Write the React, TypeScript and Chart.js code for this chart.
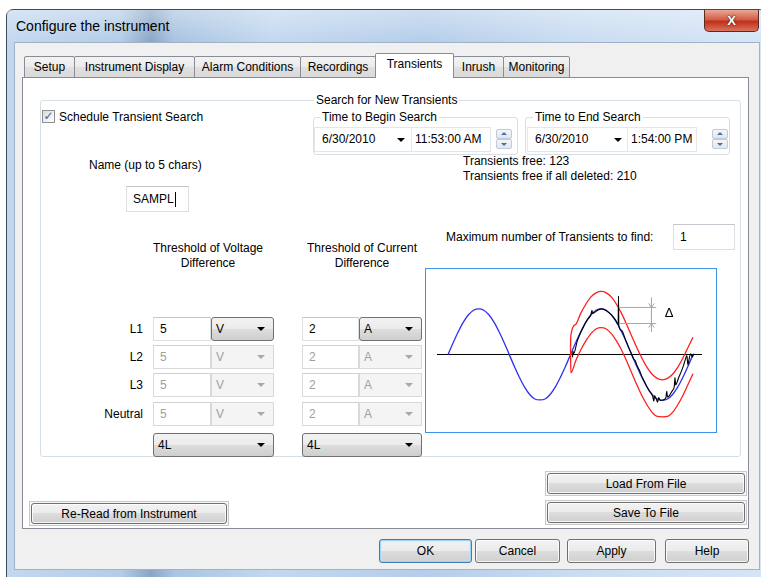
import React, { useEffect, useRef } from "react";
import { Chart, registerables } from "chart.js";
Chart.register(...registerables);

// ---------- chart data (x in degrees, y in per-unit amplitude) ----------
const blueDeg = [0, 15, 30, 45, 60, 75, 90, 105, 120, 135, 150, 165, 180, 195, 210, 225, 240, 255, 270, 285, 300, 315, 330, 345, 360, 375, 390, 405, 420, 435, 450, 465, 480, 495, 510, 525, 540, 555, 570, 585, 600, 615, 630, 645, 660, 675, 690, 705, 720];
const blueVal = [0, 0.26, 0.5, 0.71, 0.87, 0.97, 1, 0.97, 0.87, 0.71, 0.5, 0.26, 0, -0.26, -0.5, -0.71, -0.87, -0.97, -0.99, -0.97, -0.87, -0.71, -0.5, -0.26, 0, 0.26, 0.5, 0.71, 0.87, 0.97, 1, 0.97, 0.87, 0.71, 0.5, 0.26, 0, -0.26, -0.5, -0.71, -0.87, -0.97, -1, -0.97, -0.87, -0.71, -0.5, -0.26, 0];

const upperDeg = [360, 361, 375, 390, 405, 420, 435, 450, 465, 480, 495, 510, 525, 540, 555, 570, 585, 600, 615, 630, 645, 660, 675, 690, 705, 720];
const upperVal = [0.15, 0.42, 0.66, 0.9, 1.1, 1.26, 1.35, 1.38, 1.35, 1.26, 1.1, 0.9, 0.66, 0.4, 0.15, -0.08, -0.28, -0.43, -0.52, -0.55, -0.52, -0.43, -0.28, -0.08, 0.15, 0.38];

const lowerDeg = [360, 361, 375, 390, 405, 420, 435, 450, 465, 480, 495, 510, 525, 540, 555, 570, 585, 600, 615, 630, 645, 660, 675, 690, 705, 720];
const lowerVal = [0.15, -0.4, -0.14, 0.1, 0.3, 0.46, 0.56, 0.59, 0.56, 0.46, 0.3, 0.1, -0.14, -0.4, -0.66, -0.9, -1.1, -1.26, -1.35, -1.36, -1.35, -1.26, -1.1, -0.9, -0.66, -0.42];

const blackDeg = [366, 367, 369, 380, 395, 410, 420, 423, 425, 440, 452, 465, 480, 492, 500, 501, 502, 510, 520, 530, 540, 546, 550, 556, 562, 570, 578, 586, 592, 598, 602, 605, 607, 612, 616, 619, 624, 632, 640, 643, 645, 652, 660, 665, 667, 669, 678, 686, 692, 697, 702, 705, 708, 713, 718, 722];
const blackVal = [-0.06, 0.08, 0.02, 0.3, 0.56, 0.77, 0.87, 0.97, 0.9, 0.97, 1.0, 0.96, 0.87, 0.76, 0.66, 1.28, 0.63, 0.53, 0.36, 0.17, 0.0, -0.1, -0.13, -0.25, -0.33, -0.48, -0.6, -0.72, -0.8, -0.86, -0.92, -1.02, -0.9, -0.97, -1.04, -0.94, -1.0, -0.99, -0.95, -0.8, -0.93, -0.88, -0.78, -0.7, -0.5, -0.66, -0.5, -0.36, -0.24, -0.12, -0.02, -0.22, -0.12, 0.02, -0.05, 0.02];

const deltaTopDeg = [502, 612];
const deltaTopVal = [1.03, 1.03];
const deltaBottomDeg = [502, 612];
const deltaBottomVal = [0.68, 0.68];
const deltaVertDeg = [598, 598];
const deltaVertVal = [1.24, 0.5];
const arrowTopDeg = [590, 598, 606];
const arrowTopVal = [1.12, 1.03, 1.12];
const arrowBottomDeg = [590, 598, 606];
const arrowBottomVal = [0.59, 0.68, 0.59];
const deltaLabel = "Δ";
const deltaLabelDeg = [650];
const deltaLabelVal = [0.9];

const xRange = [-32.5, 746.5];
const yRange = [-1.69, 1.87];

const pts = (xs: number[], ys: number[]) => xs.map((x, i) => ({ x, y: ys[i] }));

// ---------- UI helpers ----------
const FONT = '"Liberation Sans", Arial, sans-serif';

const abs = (x: number, y: number, w: number, h: number): React.CSSProperties => ({
  position: "absolute",
  left: x,
  top: y,
  width: w,
  height: h,
  boxSizing: "border-box",
});

function Label({ x, cy, text, align = "l", color = "#000", size = 12 }: any) {
  const lh = 16;
  const style: React.CSSProperties = {
    position: "absolute",
    top: cy - lh / 2,
    lineHeight: lh + "px",
    height: lh,
    fontSize: size,
    fontFamily: FONT,
    color,
    whiteSpace: "nowrap",
  };
  if (align === "l") style.left = x;
  if (align === "c") {
    style.left = x - 150;
    style.width = 300;
    style.textAlign = "center";
  }
  if (align === "r") {
    style.left = x - 300;
    style.width = 300;
    style.textAlign = "right";
  }
  return <div style={style}>{text}</div>;
}

function Arrow({ x, cy, color = "#000" }: any) {
  return (
    <div
      style={{
        position: "absolute",
        left: x - 4,
        top: cy - 2,
        width: 0,
        height: 0,
        borderLeft: "4px solid transparent",
        borderRight: "4px solid transparent",
        borderTop: `4px solid ${color}`,
      }}
    />
  );
}

function Btn({ x, y, w, h, label, isDefault, framed }: any) {
  return (
    <>
      {framed && (
        <div style={{ ...abs(x - 2, y - 2, w + 4, h + 4), border: "1px solid #c9c9c9", background: "#f7f7f7" }} />
      )}
      <div
        style={{
          ...abs(x, y, w, h),
          border: `1px solid ${isDefault ? "#3c7fb1" : "#707070"}`,
          borderRadius: 3,
          background: "linear-gradient(#f2f2f2, #ebebeb 50%, #dddddd 50%, #cfcfcf)",
          boxShadow: isDefault ? "inset 0 0 0 1px #9fd3f2, inset 0 0 2px 1px #c8e8fa" : "inset 0 0 0 1px rgba(255,255,255,0.8)",
          display: "flex",
          alignItems: "center",
          justifyContent: "center",
          fontFamily: FONT,
          fontSize: 12,
          color: "#000",
        }}
      >
        {label}
      </div>
    </>
  );
}

function TextBox({ x, y, w, h, text, disabled, cursor }: any) {
  return (
    <div
      style={{
        ...abs(x, y, w, h),
        border: `1px solid ${disabled ? "#d9d9d9" : "#dcdfe4"}`,
        borderTopColor: disabled ? "#d0d0d0" : "#c3c6cc",
        background: "#fff",
        fontFamily: FONT,
        fontSize: 12,
        color: disabled ? "#a0a0a0" : "#000",
        display: "flex",
        alignItems: "center",
        paddingLeft: 6,
      }}
    >
      {text}
      {cursor && <span style={{ display: "inline-block", width: 1, height: 15, background: "#000", marginLeft: 1 }} />}
    </div>
  );
}

function Combo({ x, y, w, h, text, disabled }: any) {
  return (
    <div
      style={{
        ...abs(x, y, w, h),
        border: `1px solid ${disabled ? "#d9d9d9" : "#707070"}`,
        borderRadius: disabled ? 0 : 3,
        background: disabled ? "#f4f4f4" : "linear-gradient(#f2f2f2, #ebebeb 50%, #dddddd 50%, #cfcfcf)",
        fontFamily: FONT,
        fontSize: 12,
        color: disabled ? "#a0a0a0" : "#000",
        display: "flex",
        alignItems: "center",
        paddingLeft: 4,
      }}
    >
      {text}
      <div
        style={{
          position: "absolute",
          right: 8,
          top: h / 2 - 3,
          width: 0,
          height: 0,
          borderLeft: "4px solid transparent",
          borderRight: "4px solid transparent",
          borderTop: `4px solid ${disabled ? "#a8a8a8" : "#000"}`,
        }}
      />
    </div>
  );
}

function GroupBox({ x, y, w, h, label, labelX }: any) {
  return (
    <>
      <div style={{ ...abs(x, y, w, h), border: "1px solid #d5dfe5", borderRadius: 3 }} />
      <div
        style={{
          position: "absolute",
          left: labelX - 2,
          top: y - 8,
          height: 16,
          lineHeight: "16px",
          padding: "0 2px",
          background: "#fff",
          fontFamily: FONT,
          fontSize: 12,
          whiteSpace: "nowrap",
        }}
      >
        {label}
      </div>
    </>
  );
}

function Spinner({ x, y }: any) {
  const part = (top: number, up: boolean) => (
    <div
      style={{
        ...abs(x, top, 16, 10),
        border: "1px solid #c2cad6",
        borderRadius: 2,
        background: "linear-gradient(#f4f7fb, #dfe6ef)",
      }}
    >
      <div
        style={{
          position: "absolute",
          left: 4,
          top: up ? 2 : 3,
          width: 0,
          height: 0,
          borderLeft: "3px solid transparent",
          borderRight: "3px solid transparent",
          ...(up ? { borderBottom: "3px solid #4d6fa8" } : { borderTop: "3px solid #4d6fa8" }),
        }}
      />
    </div>
  );
  return (
    <>
      {part(y, true)}
      {part(y + 10, false)}
    </>
  );
}

function DateTime({ x, y, dateW, timeW, date, time, arrowX, spinX }: any) {
  return (
    <>
      <div style={{ ...abs(x, y, dateW + timeW, 25), border: "1px solid #e3e6ea", background: "#fff" }} />
      <div style={{ ...abs(x + dateW, y + 1, 1, 23), background: "#e3e6ea" }} />
      <Label x={x + 8} cy={y + 12} text={date} />
      <Arrow x={arrowX} cy={y + 13} />
      <Label x={x + dateW + 4} cy={y + 12} text={time} />
      <Spinner x={spinX} y={y + 2} />
    </>
  );
}

function Tab({ x, w, label, selected }: any) {
  return (
    <div
      style={{
        ...abs(x, selected ? 53 : 56, w, selected ? 25 : 22),
        border: "1px solid #898c95",
        borderBottom: selected ? "none" : "1px solid #898c95",
        borderRadius: "2px 2px 0 0",
        background: selected ? "#fff" : "linear-gradient(#f3f3f3, #ebebeb 50%, #e0e0e0 50%, #dadada)",
        fontFamily: FONT,
        fontSize: 12,
        display: "flex",
        alignItems: "center",
        justifyContent: "center",
        paddingBottom: selected ? 4 : 0,
        zIndex: selected ? 2 : 1,
      }}
    >
      {label}
    </div>
  );
}

// ---------- chart ----------
function WaveChart() {
  const ref = useRef<HTMLCanvasElement>(null);
  useEffect(() => {
    if (!ref.current) return;
    const deltaPlugin = {
      id: "deltaLabel",
      afterDatasetsDraw(chart: any) {
        const { ctx, scales } = chart;
        ctx.save();
        ctx.fillStyle = "#000";
        ctx.font = '13px "Liberation Sans", Arial, sans-serif';
        ctx.textAlign = "center";
        ctx.textBaseline = "middle";
        deltaLabelDeg.forEach((d, i) => {
          ctx.fillText(deltaLabel, scales.x.getPixelForValue(d), scales.y.getPixelForValue(deltaLabelVal[i]));
        });
        ctx.restore();
      },
    };
    const line = (data: any, color: string, width: number, order: number) => ({
      data,
      borderColor: color,
      borderWidth: width,
      pointRadius: 0,
      fill: false,
      order,
      cubicInterpolationMode: "monotone" as const,
    });
    const straight = (data: any, color: string, width: number) => ({
      data,
      borderColor: color,
      borderWidth: width,
      pointRadius: 0,
      fill: false,
      order: 0,
      tension: 0,
    });
    const chart = new Chart(ref.current, {
      type: "line",
      data: {
        datasets: [
          line(pts(blueDeg, blueVal), "#2f2ff0", 1.3, 4),
          line(pts(upperDeg, upperVal), "#ff1f1f", 1.3, 3),
          line(pts(lowerDeg, lowerVal), "#ff1f1f", 1.3, 3),
          line(pts(blackDeg, blackVal), "#000", 1.1, 1),
          straight(pts(deltaTopDeg, deltaTopVal), "#a8a8a8", 1),
          straight(pts(deltaBottomDeg, deltaBottomVal), "#a8a8a8", 1),
          straight(pts(deltaVertDeg, deltaVertVal), "#a8a8a8", 1),
          straight(pts(arrowTopDeg, arrowTopVal), "#a8a8a8", 1),
          straight(pts(arrowBottomDeg, arrowBottomVal), "#a8a8a8", 1),
        ] as any,
      },
      options: {
        animation: false,
        responsive: false,
        maintainAspectRatio: false,
        layout: { padding: { left: 11, right: 14, top: 0, bottom: 0 } },
        plugins: { legend: { display: false }, tooltip: { enabled: false } },
        elements: { point: { radius: 0 } },
        scales: {
          x: { type: "linear", display: false, min: xRange[0], max: xRange[1] },
          y: {
            type: "linear",
            display: true,
            min: yRange[0],
            max: yRange[1],
            afterBuildTicks: (s: any) => {
              s.ticks = [{ value: 0 }];
            },
            ticks: { display: false },
            grid: { drawTicks: false, color: "#000", lineWidth: 1 },
            border: { display: false },
          },
        },
      } as any,
      plugins: [deltaPlugin],
    });
    return () => chart.destroy();
  }, []);
  return (
    <div style={{ ...abs(425, 268, 292, 165), border: "1px solid #3b93eb", background: "#fff" }}>
      <canvas ref={ref} width={290} height={163} style={{ display: "block", width: 290, height: 163 }} />
    </div>
  );
}

export default function App() {
  const rows = [
    { label: "L1", y: 317, dis: false },
    { label: "L2", y: 345, dis: true },
    { label: "L3", y: 373, dis: true },
    { label: "Neutral", y: 402, dis: true },
  ];
  return (
    <div style={{ position: "fixed", left: 0, top: 0, width: 761, height: 577, background: "#fff", overflow: "hidden", fontFamily: FONT }}>
      {/* window frame */}
      <div
        style={{
          ...abs(6, 9, 760, 570),
          border: "1px solid #3d4b5c",
          borderRadius: "7px 7px 0 0",
          background:
            "linear-gradient(90deg, #c3d8ee 0%, #b3cce8 15%, #8aa5c4 19%, #a9c3e1 22%, #c2d8ef 35%, #b5cdea 55%, #c9dcf1 75%, #d5e5f6 100%)",
        }}
      />
      <div style={{ ...abs(7, 10, 758, 32), background: "linear-gradient(rgba(255,255,255,0.35), rgba(255,255,255,0))" }} />
      <Label x={16} cy={26} text="Configure the instrument" size={14} />
      {/* close button */}
      <div
        style={{
          ...abs(704, 10, 55, 22),
          border: "1px solid #5e2a20",
          borderTop: "none",
          borderRadius: "0 0 5px 5px",
          background: "linear-gradient(#e9a898, #d35e46 45%, #c2301a 55%, #d8745a)",
          color: "#fff",
          fontWeight: "bold",
          fontSize: 13,
          display: "flex",
          alignItems: "center",
          justifyContent: "center",
          textShadow: "0 0 2px #4a1a10, 0 0 1px #4a1a10",
        }}
      >
        X
      </div>
      {/* client area */}
      <div style={{ ...abs(14, 42, 746, 528), background: "#f0f0f0", border: "1px solid #9fb2c8" }} />

      {/* tab panel */}
      <div style={{ ...abs(22, 77, 727, 452), border: "1px solid #898c95", background: "#fff" }} />
      <Tab x={24} w={51} label="Setup" />
      <Tab x={74} w={121} label="Instrument Display" />
      <Tab x={194} w={107} label="Alarm Conditions" />
      <Tab x={300} w={76} label="Recordings" />
      <Tab x={375} w={79} label="Transients" selected />
      <Tab x={453} w={51} label="Inrush" />
      <Tab x={503} w={67} label="Monitoring" />

      {/* outer group */}
      <GroupBox x={40} y={100} w={701} h={357} label="Search for New Transients" labelX={316} />
      {/* checkbox */}
      <div
        style={{
          ...abs(42, 110, 13, 13),
          border: "1px solid #8f8f8f",
          background: "linear-gradient(135deg, #dcdcdc, #fdfdfd)",
          color: "#3d5fa6",
          fontSize: 12,
          fontWeight: "bold",
          lineHeight: "11px",
          textAlign: "center",
          fontFamily: '"DejaVu Sans", sans-serif',
        }}
      >
        ✓
      </div>
      <Label x={59} cy={117} text="Schedule Transient Search" />

      <GroupBox x={313} y={117} w={205} h={38} label="Time to Begin Search" labelX={322} />
      <DateTime x={314} y={127} dateW={97} timeW={80} date="6/30/2010" time="11:53:00 AM" arrowX={401} spinX={496} />
      <GroupBox x={525} y={117} w={205} h={38} label="Time to End Search" labelX={535} />
      <DateTime x={527} y={127} dateW={100} timeW={70} date="6/30/2010" time="1:54:00 PM" arrowX={618} spinX={712} />

      <Label x={463} cy={161} text="Transients free: 123" />
      <Label x={463} cy={176} text="Transients free if all deleted: 210" />

      <Label x={89} cy={165} text="Name (up to 5 chars)" />
      <TextBox x={126} y={186} w={63} h={26} text="SAMPL" cursor />

      <Label x={208} cy={248} text="Threshold of Voltage" align="c" />
      <Label x={208} cy={263} text="Difference" align="c" />
      <Label x={362} cy={248} text="Threshold of Current" align="c" />
      <Label x={362} cy={263} text="Difference" align="c" />

      <Label x={446} cy={237} text="Maximum number of Transients to find:" />
      <TextBox x={673} y={224} w={62} h={26} text="1" />

      {rows.map((r) => (
        <React.Fragment key={r.label}>
          <Label x={143} cy={r.y + 12} text={r.label} align="r" />
          <TextBox x={153} y={r.y} w={58} h={24} text="5" disabled={r.dis} />
          <Combo x={211} y={r.y} w={63} h={24} text="V" disabled={r.dis} />
          <TextBox x={302} y={r.y} w={57} h={24} text="2" disabled={r.dis} />
          <Combo x={359} y={r.y} w={63} h={24} text="A" disabled={r.dis} />
        </React.Fragment>
      ))}
      <Combo x={153} y={433} w={121} h={24} text="4L" />
      <Combo x={302} y={433} w={120} h={24} text="4L" />

      <WaveChart />

      <Btn x={547} y={473} w={198} h={21} label="Load From File" framed />
      <Btn x={547} y={502} w={198} h={21} label="Save To File" framed />
      <Btn x={31} y={503} w={196} h={21} label="Re-Read from Instrument" framed />

      <Btn x={379} y={539} w={93} h={24} label="OK" isDefault />
      <Btn x={475} y={539} w={85} h={24} label="Cancel" />
      <Btn x={567} y={539} w={89} h={24} label="Apply" />
      <Btn x={665} y={539} w={84} h={24} label="Help" />
    </div>
  );
}
